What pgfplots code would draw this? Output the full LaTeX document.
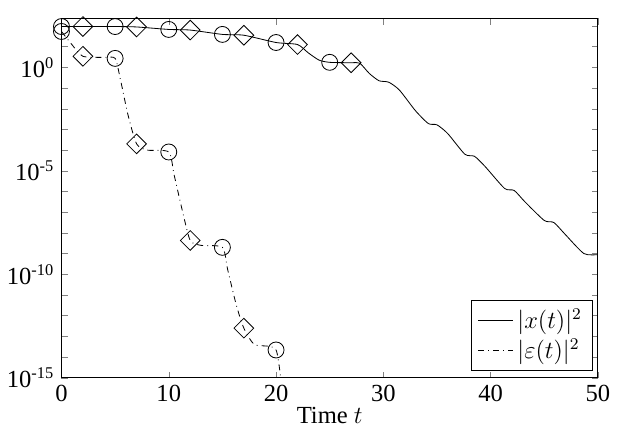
\documentclass[border=0pt]{standalone}
\usepackage{pgfplots}
\pgfplotsset{compat=1.18}
\usepackage{fontspec}
\setmainfont{Liberation Serif}
\begin{document}
\begin{tikzpicture}[font=\large]
\begin{axis}[
  width=262pt, height=175.5pt, scale only axis,
  ymode=log, xmin=0, xmax=50, ymin=1e-15, ymax=2.3e2,
  xtick={0,10,20,30,40,50},
  ytick={1e-15,1e-10,1e-5,1},
  yticklabels={10\textsuperscript{-15},10\textsuperscript{-10},10\textsuperscript{-5},10\textsuperscript{0}},
  minor ytick={1e-14,1e-13,1e-12,1e-11,1e-9,1e-8,1e-7,1e-6,1e-4,1e-3,1e-2,1e-1,1e1,1e2},
  tick align=inside, tick pos=both, major tick length=3pt, minor tick length=3pt,
  /pgf/number format/assume math mode=true,
  xlabel={Time $t$}, xlabel style={yshift=4pt},
  tick label style={font=\large},
  legend style={at={(0.99,0.02)}, anchor=south east, draw=black, font=\large, cells={anchor=west}},
]
\addplot[black, thin, smooth, tension=0.4] coordinates {
(0,93.3)(2,93.3)(5,93.3)(7,89.1)(10,67.6)(12,63.1)(15,38.9)(17,35.5)(20,15.8)(22,12.6)(23,5.01)(24,2.24)(25,1.74)(27,1.66)(27.8,1.58)(28.7,0.501)(29.6,0.224)(30.5,0.191)(31.5,0.0794)(33,7.94e-3)(34.2,1.91e-3)(35,1.66e-3)(36,6.31e-4)(37.6,6.31e-5)(38.5,5.01e-5)(39.5,1.58e-5)(41.3,1.41e-6)(42.2,1.12e-6)(43.2,3.16e-7)(45,3.98e-8)(45.9,3.16e-8)(47,7.94e-9)(48.7,1e-9)(50,8.91e-10)};
\addlegendentry{$|x(t)|^2$}
\addplot[black, thin, dash dot, smooth, tension=0.4] coordinates {
(0,54)(1,12)(2,3.4)(4,3.0)(5,2.7)(5.5,0.25)(6.2,5e-3)(7,2e-4)(8,1e-4)(10,8.1e-5)(10.5,6.3e-6)(11.3,1e-7)(12,4.3e-9)(13,2.5e-9)(15,2e-9)(15.5,1.6e-10)(16.3,3.2e-12)(17,2.5e-13)(18,4e-14)(20,2.2e-14)(20.6,1e-16)};
\addlegendentry{$|\varepsilon(t)|^2$}
\addplot[black, only marks, mark=o, mark size=3.9pt, forget plot] coordinates {
(0,93.3)(5,93.3)(10,67.6)(15,38.9)(20,15.8)(25,1.74)};
\addplot[black, only marks, mark=square, mark options={rotate=45}, mark size=3.4pt, forget plot] coordinates {
(2,93.3)(7,89.1)(12,63.1)(17,35.5)(22,12.6)(27,1.66)};
\addplot[black, only marks, mark=o, mark size=3.9pt, forget plot] coordinates {
(0,54)(5,2.7)(10,8.1e-5)(15,2e-9)(20,2.2e-14)};
\addplot[black, only marks, mark=square, mark options={rotate=45}, mark size=3.4pt, forget plot] coordinates {
(2,3.4)(7,2e-4)(12,4.3e-9)(17,2.5e-13)};
\end{axis}
\path ([yshift=9pt]current axis.north east);
\end{tikzpicture}
\end{document}
